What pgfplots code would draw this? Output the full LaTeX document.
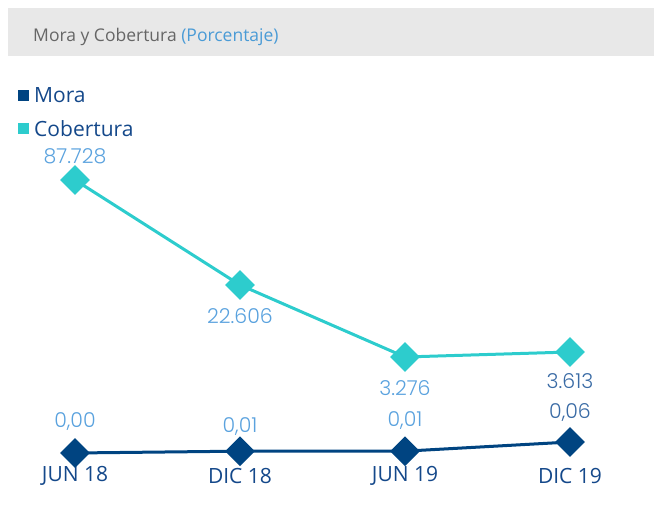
\documentclass[border=0pt]{standalone}
\usepackage{pgfplots}
\pgfplotsset{compat=1.18}
\usepackage{pgfplotstable}
\usepackage{fontspec}
\setmainfont{Open Sans}
\newfontfamily\lightfont{Poppins}[UprightFont=* Light]

\definecolor{mora}{HTML}{004481}
\definecolor{cob}{HTML}{2DCCCD}
\definecolor{lab}{HTML}{5AA2DE}
\definecolor{labdark}{HTML}{3A6BA5}
\definecolor{cattext}{HTML}{14488A}
\definecolor{headbg}{HTML}{E8E8E8}
\definecolor{titlegray}{HTML}{666666}
\definecolor{titleblue}{HTML}{4A9BD6}

% Cobertura: pos = drawn height (the chart is not to scale), val = printed value
\pgfplotstableread{
x pos val    dy  dark
0 324 87.728 24  0
1 219 22.606 -31 0
2 147 3.276  -31 0
3 152 3.613  -29 1
}\cobdata
% Mora
\pgfplotstableread{
x val  lab  dy dark
0 0.00 0,00 31 0
1 0.01 0,01 25 0
2 0.01 0,01 31 0
3 0.06 0,06 29 1
}\moradata

\pgfplotsset{
  base/.style={
    scale only axis, width=654pt, height=504pt,
    at={(0,0)}, anchor=south west,
    xmin=-0.4545, xmax=3.509, clip=false,
  },
  serie/.style={
    line width=3pt, mark=square*, mark size=9pt,
    mark options={rotate=45, solid},
    point meta=explicit symbolic,
    visualization depends on={\thisrow{dy}\as\dy},
    visualization depends on={\thisrow{dark}\as\dark},
    nodes near coords={\ifdim\dark pt>0.5pt\color{labdark}\else\color{lab}\fi\pgfplotspointmeta},
    every node near coord/.append style={anchor=center, yshift=\dy pt,
      font=\lightfont\fontsize{20.5}{23}\selectfont},
  },
}

\begin{document}
\begin{tikzpicture}[x=1pt,y=1pt]
\useasboundingbox (0,0) rectangle (654,504);
% header
\fill[headbg] (8,448) rectangle (654,496);
\node[anchor=base west, inner sep=0, text=titlegray,
  font=\fontsize{17.5}{20}\selectfont] at (33,462)
  {Mora y Cobertura \textcolor{titleblue}{(Porcentaje)}};
% legend
\fill[mora] (18,403) rectangle (29,414);
\node[anchor=base west, inner sep=0, text=cattext,
  font=\fontsize{21}{24}\selectfont] at (34,401) {Mora};
\fill[cob] (18,370) rectangle (29,381);
\node[anchor=base west, inner sep=0, text=cattext,
  font=\fontsize{21}{24}\selectfont] at (34,367) {Cobertura};

\begin{axis}[base, ymin=0, ymax=504, hide axis]
\addplot[cob, serie] table[x=x, y=pos, meta=val] {\cobdata};
\end{axis}

\begin{axis}[base, ymin=-0.2782, ymax=2.471,
  axis line style={draw=none}, major tick length=0pt, ytick=\empty,
  xtick={0,1,2,3}, xticklabels={JUN 18,DIC 18,JUN 19,DIC 19},
  xticklabel style={anchor=center, yshift=28pt, text=cattext,
    font=\fontsize{21}{24}\selectfont}]
\addplot[mora, serie] table[x=x, y=val, meta=lab] {\moradata};
\end{axis}
\end{tikzpicture}
\end{document}
